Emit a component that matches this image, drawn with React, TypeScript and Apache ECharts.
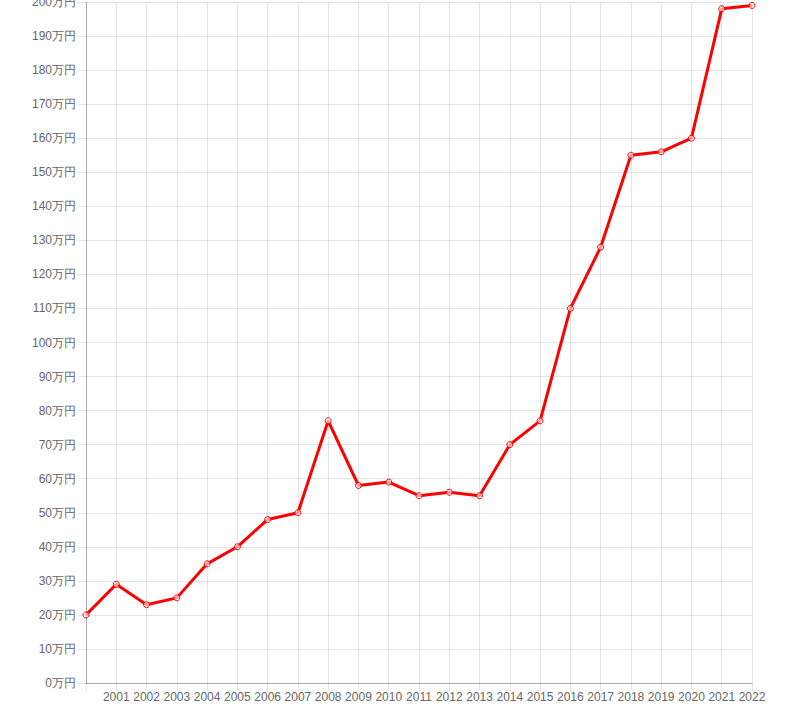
import React, { useEffect, useRef } from "react";
import * as echarts from "echarts";

const years: string[] = [
  "2000", "2001", "2002", "2003", "2004", "2005", "2006", "2007", "2008", "2009", "2010", "2011",
  "2012", "2013", "2014", "2015", "2016", "2017", "2018", "2019", "2020", "2021", "2022",
];
const values: number[] = [
  20, 29, 23, 25, 35, 40, 48, 50, 77, 58, 59, 55,
  56, 55, 70, 77, 110, 128, 155, 156, 160, 198, 199,
];
const yMin = 0;
const yMax = 200;
const yStep = 10;
const unit = "万円";

export default function App() {
  const ref = useRef<HTMLDivElement>(null);
  useEffect(() => {
    if (!ref.current) return;
    const chart = echarts.init(ref.current, null, { renderer: "svg" });
    const gridColor = "rgba(0,0,0,0.1)";
    chart.setOption({
      animation: false,
      grid: { left: 86, top: 2, right: 45, bottom: 35, containLabel: false, outerBoundsMode: "none" },
      xAxis: {
        type: "category",
        data: years,
        boundaryGap: false,
        axisLine: { show: true, lineStyle: { color: "rgba(0,0,0,0.25)" } },
        axisTick: { show: true, alignWithLabel: true, length: 8, lineStyle: { color: gridColor } },
        axisLabel: {
          interval: 0,
          color: "#666",
          fontSize: 12,
          fontFamily: "Arial, 'Liberation Sans', sans-serif",
          margin: 8,
          formatter: (v: string, i: number) => (i === 0 ? "" : v),
        },
        splitLine: { show: true, lineStyle: { color: gridColor, width: 1 } },
      },
      yAxis: {
        type: "value",
        min: yMin,
        max: yMax,
        interval: yStep,
        axisLine: { show: true, lineStyle: { color: "rgba(0,0,0,0.25)" } },
        axisTick: { show: true, length: 8, lineStyle: { color: gridColor } },
        axisLabel: {
          color: "#666",
          fontSize: 12,
          fontFamily: "Arial, 'Liberation Sans', sans-serif",
          margin: 10,
          formatter: (v: number) => `${v}${unit}`,
        },
        splitLine: { show: true, lineStyle: { color: gridColor, width: 1 } },
      },
      series: [
        {
          type: "line",
          data: values,
          symbol: "circle",
          symbolSize: 6,
          showAllSymbol: true,
          lineStyle: { color: "#ff0000", width: 3 },
          itemStyle: { color: "rgba(255,255,255,0.6)", borderColor: "#ff0000", borderWidth: 1 },
        },
      ],
    });
    return () => chart.dispose();
  }, []);
  return (
    <div
      ref={ref}
      style={{ position: "fixed", left: 0, top: 0, width: 797, height: 718, background: "#fff" }}
    />
  );
}
